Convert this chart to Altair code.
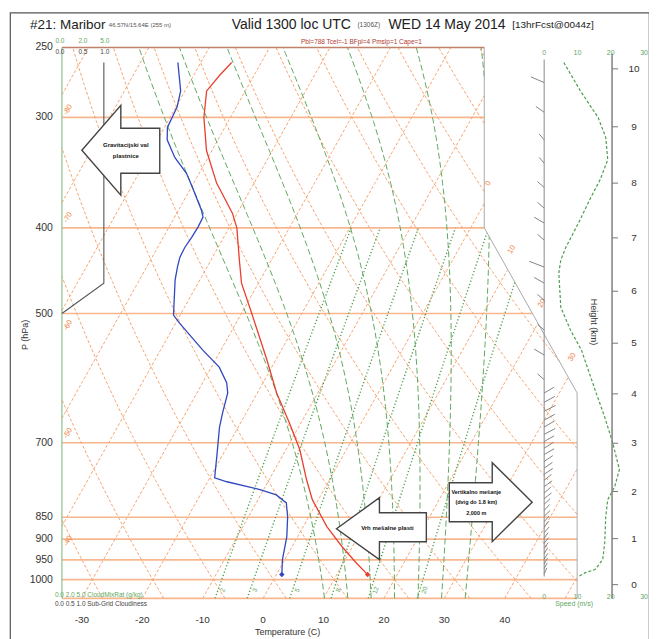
import numpy as np
import pandas as pd
import altair as alt

FONT = "Liberation Sans"

# ---------------------------------------------------------------- sounding data
temp_p = [260, 269, 280, 300, 327, 356, 385, 400, 435, 462, 499, 564, 615, 665, 713, 771, 812, 871, 918, 957, 987]
temp_T = [-54.9, -55.7, -56.4, -54.4, -50.9, -46.2, -40.8, -38.7, -35.3, -32.8, -28.4, -21.5, -16.8,
          -11.9, -7.7, -3.8, -1.0, 3.9, 8.3, 12.1, 15.1]

dew_p = [260, 280, 292, 308, 318, 333, 347, 360, 382, 389, 399, 410, 421, 432, 443, 458, 502, 513, 550, 575,
         599, 615, 648, 672, 726, 767, 775, 791, 802, 819, 849, 894, 949, 987]
dew_T = [-63.8, -60.7, -59.8, -59.5, -58.4, -55.5, -52.1, -49.8, -46.2, -45.3, -45.2, -45.3, -45.5, -45.4,
         -44.9, -44.1, -41.1, -39.3, -33.0, -28.7, -26.0, -24.9, -23.9, -23.1, -20.8, -19.2, -16.8, -10.6,
         -7.4, -5.0, -3.5, -1.8, -0.4, 0.9]

spd_p = [260, 280, 300, 316, 335, 353, 369, 395, 421, 435, 450, 492, 522, 550, 610, 655, 700, 751, 785, 812,
         849, 908, 949, 974, 982, 992]
spd_v = [5.9, 10.9, 16.2, 18.5, 19.1, 16.8, 14.1, 10.3, 6.5, 5.0, 4.4, 5.0, 7.9, 11.2, 15.3, 18.2, 20.6,
         22.6, 21.2, 19.1, 18.5, 18.2, 17.6, 15.3, 12.4, 10.3]

# wind barbs (pressure, barb length in speed units; negative = to the left)
barb_p = [274, 296, 318, 338, 360, 380, 395, 413, 443, 462, 483, 522, 557, 594,
          615, 630, 645, 660, 672, 685, 698, 710, 722, 735, 748, 760, 772, 785, 798, 810,
          822, 835, 848, 860, 872, 885, 898, 910, 922, 935, 948, 960, 972, 985]
barb_len = [-4.0, -2.5, -1.5, -1.5, -2.0, -2.0, -3.0, -2.0, -4.5, -3.0, -2.0, -2.0, -3.0, -2.0,
            3.0, 3.2, 3.4, 3.2, 3.0, 3.3, 3.0, 2.8, 3.0, 2.6, 2.5, 2.6, 2.2, 2.4, 2.0, 2.2,
            1.8, 1.6, 1.8, 1.5, 1.4, 1.5, 1.2, 1.3, 1.2, 1.0, 1.1, 1.0, 0.9, 0.8]

# cloud / grey profile on the small left scale
cloud_p = [260, 462, 500]
cloud_v = [5.0, 5.0, 0.0]

pressure_ticks = [250, 300, 400, 500, 700, 850, 900, 950, 1000]
isobars = [300, 400, 500, 700, 850, 900, 950, 1000, 1050]
temp_ticks = [-30, -20, -10, 0, 10, 20, 30, 40]
height_km = [0, 1, 2, 3, 4, 5, 6, 7, 8, 9, 10]
speed_ticks = [0, 10, 20, 30]

isotherm_T = list(range(-110, 51, 10))
theta_C = list(range(-40, 121, 10))
theta_w = [8, 12, 16, 20, 24, 28, 32]
mix_w = [2, 3, 5, 8, 12, 20]
left_iso_labels = [-40, -50, -60, -70, -80]
right_iso_labels = [0, 10, 20, 30]

# ---------------------------------------------------------------- diagram geometry
K = 35.6                      # skew: X = T + K*ln(1000/p)
P_TOP, P_BOT = 250.0, 1050.0
XL = -35.04                   # left edge of diagram (skewed units)
X_RT, X_RB = 34.88, 50.25     # right edge above 400 hPa / below 615 hPa
P_C1, P_C2 = 400.0, 615.0

XS = alt.Scale(domain=[-30, 40], range=[82.5, 506.0], nice=False)
YS = alt.Scale(type="log", domain=[P_TOP, P_BOT], range=[35.0, 586.76], nice=False)
SPD = alt.Scale(domain=[0, 30], range=[535, 635], nice=False)
CLD = alt.Scale(domain=[0, 5], range=[52, 94], nice=False)

SKEW = f"datum.T + {K}*log(1000/datum.p)"


def XR(p):
    if p <= P_C1:
        return X_RT
    if p >= P_C2:
        return X_RB
    f = np.log(p / P_C1) / np.log(P_C2 / P_C1)
    return X_RT + f * (X_RB - X_RT)


def inside(X, p):
    return (X >= XL - 1e-6) and (X <= XR(p) + 1e-6) and (P_TOP - 1e-6 <= p <= P_BOT + 1e-6)


T0, T1 = np.log(1000 / P_BOT), np.log(1000 / P_TOP)


def bis(fn, a, b):
    ia = inside(*fn(a))
    for _ in range(40):
        m = 0.5 * (a + b)
        if inside(*fn(m)) == ia:
            a = m
        else:
            b = m
    return a if ia else b


def clip(fn, t0=T0, t1=T1, n=90):
    ts = np.linspace(t0, t1, n)
    pts = [fn(t) for t in ts]
    ins = [inside(*q) for q in pts]
    runs, cur = [], []
    for k in range(n):
        if ins[k]:
            if not cur and k > 0:
                cur.append(fn(bis(fn, ts[k - 1], ts[k])))
            cur.append(pts[k])
        elif cur:
            cur.append(fn(bis(fn, ts[k - 1], ts[k])))
            runs.append(cur)
            cur = []
    if cur:
        runs.append(cur)
    return runs


def frame(lines):
    rows = []
    for lid, runs in lines:
        for r, run in enumerate(runs):
            for i, (X, p) in enumerate(run):
                rows.append({"id": f"{lid}_{r}", "i": i, "X": X, "p": p})
    return pd.DataFrame(rows)


def es(Tc):
    return 6.112 * np.exp(17.67 * Tc / (Tc + 243.5))


def dTdp(T, p):
    e = es(T - 273.15)
    rs = 0.622 * e / (p - e)
    Rd, cp, Lv = 287.04, 1005.7, 2.501e6
    return ((Rd * T + Lv * rs) / p) / (cp + Lv * Lv * rs * 0.622 / (Rd * T * T))


def moist(thw):
    tu = np.linspace(0, T1, 160)
    td = np.linspace(0, T0, 8)
    def integ(tt):
        T = thw + 273.15
        out = [T]
        for a, b in zip(tt[:-1], tt[1:]):
            p0, p1 = 1000 * np.exp(-a), 1000 * np.exp(-b)
            h = p1 - p0
            k1 = dTdp(T, p0)
            k2 = dTdp(T + h / 2 * k1, p0 + h / 2)
            k3 = dTdp(T + h / 2 * k2, p0 + h / 2)
            k4 = dTdp(T + h * k3, p1)
            T = T + h / 6 * (k1 + 2 * k2 + 2 * k3 + k4)
            out.append(T)
        return np.array(out)
    Tu, Td = integ(tu), integ(td)
    ts = np.concatenate([td[::-1], tu[1:]])
    Ts = np.concatenate([Td[::-1], Tu[1:]]) - 273.15
    return lambda t: (float(np.interp(t, ts, Ts)) + K * t, 1000 * np.exp(-t))


iso_df = frame([(f"i{T}", clip(lambda t, T=T: (T + K * t, 1000 * np.exp(-t)))) for T in isotherm_T])
dry_df = frame([(f"d{th}", clip(lambda t, th=th: ((th + 273.15) * np.exp(-t) ** 0.2857 - 273.15 + K * t,
                                                   1000 * np.exp(-t)))) for th in theta_C])
moist_df = frame([(f"m{w}", clip(moist(w))) for w in theta_w])


def mixfn(w):
    def f(t):
        p = 1000 * np.exp(-t)
        e = w * p / (622.0 + w)
        g = np.log(e / 6.112)
        return 243.5 * g / (17.67 - g) + K * t, p
    return f


mix_df = frame([(f"w{w}", clip(mixfn(w), T0, np.log(1000 / 400.0))) for w in mix_w])

bar_df = pd.DataFrame({"p": isobars, "X1": [XL] * len(isobars), "X2": [XR(p) for p in isobars]})
edge_df = pd.DataFrame({"i": [0, 1, 2, 3], "X": [X_RT, X_RT, X_RB, X_RB], "p": [P_TOP, P_C1, P_C2, P_BOT]})

# orange isotherm labels
def lab_pos(X, p, dxp, dyp):
    return X + dxp / 6.05, p * np.exp(dyp / 384.5)

ll = []
for T in left_iso_labels:
    L = (XL - T) / K
    X, p = lab_pos(XL, 1000 * np.exp(-L), 6, 15)
    ll.append({"X": X, "p": p, "t": str(T)})
for T in right_iso_labels:
    fn = lambda t, T=T: (T + K * t, 1000 * np.exp(-t))
    tb = bis(fn, T0, T1) if inside(*fn(T0)) and not inside(*fn(T1)) else T1
    X, p = fn(tb)
    X, p = lab_pos(X, p, 4, -20)
    ll.append({"X": X, "p": p, "t": str(T)})
olab_df = pd.DataFrame(ll)

ml = []
for w in mix_w:
    X, p = mixfn(w)(np.log(1000 / 1028.0))
    ml.append({"X": X + 0.8, "p": p, "t": str(w)})
mlab_df = pd.DataFrame(ml)

# ---------------------------------------------------------------- layers
ORANGE = "#f6a46f"
ISOBAR = "#f8b68f"
GREEN = "#5fa85f"

def lines(df, color, dash, width=1.0):
    return alt.Chart(df).mark_line(color=color, strokeDash=dash, strokeWidth=width, clip=False).encode(
        x=alt.X("X:Q", scale=XS, axis=None), y=alt.Y("p:Q", scale=YS, axis=None),
        detail="id:N", order="i:Q")

layers = []
layers.append(alt.Chart(bar_df).mark_rule(color=ISOBAR, strokeWidth=1.6).encode(
    x=alt.X("X1:Q", scale=XS, axis=None), x2="X2:Q", y=alt.Y("p:Q", scale=YS, axis=None)))
layers.append(lines(iso_df, ORANGE, [3, 2]))
layers.append(lines(dry_df, ORANGE, [3, 2]))
layers.append(lines(moist_df, GREEN, [6, 3]))
layers.append(lines(mix_df, "#4f9f4f", [1.2, 2.2], 1.4))
layers.append(alt.Chart(pd.DataFrame({"p": [P_TOP], "X1": [XL], "X2": [X_RT]})).mark_rule(
    color="#c0806a", strokeWidth=1.6).encode(
    x=alt.X("X1:Q", scale=XS, axis=None), x2="X2:Q", y=alt.Y("p:Q", scale=YS, axis=None)))
layers.append(alt.Chart(pd.DataFrame({"X": [XL], "p1": [P_TOP], "p2": [P_BOT]})).mark_rule(
    color="#8cc08c", strokeWidth=1.2).encode(
    x=alt.X("X:Q", scale=XS, axis=None), y=alt.Y("p1:Q", scale=YS, axis=None), y2="p2:Q"))
layers.append(alt.Chart(edge_df).mark_line(color="#aaaaaa", strokeWidth=1).encode(
    x=alt.X("X:Q", scale=XS, axis=None), y=alt.Y("p:Q", scale=YS, axis=None), order="i:Q"))
layers.append(alt.Chart(olab_df).mark_text(color="#f08040", fontSize=7.5, font=FONT, angle=300).encode(
    x=alt.X("X:Q", scale=XS, axis=None), y=alt.Y("p:Q", scale=YS, axis=None), text="t:N"))
layers.append(alt.Chart(mlab_df).mark_text(color=GREEN, fontSize=6.5, font=FONT, angle=290).encode(
    x=alt.X("X:Q", scale=XS, axis=None), y=alt.Y("p:Q", scale=YS, axis=None), text="t:N"))

# grey cloud profile
layers.append(alt.Chart(pd.DataFrame({"p": cloud_p, "v": cloud_v, "i": range(3)})).mark_line(
    color="#555555", strokeWidth=1.1).encode(
    x=alt.X("v:Q", scale=CLD, axis=None), y=alt.Y("p:Q", scale=YS, axis=None), order="i:Q"))

# wind speed + barbs
layers.append(alt.Chart(pd.DataFrame({"p": spd_p, "v": spd_v})).mark_line(
    color="#4d9e4d", strokeDash=[3, 2], strokeWidth=1.2).encode(
    x=alt.X("v:Q", scale=SPD, axis=None), y=alt.Y("p:Q", scale=YS, axis=None), order="p:Q"))
layers.append(alt.Chart(pd.DataFrame({"a": [258], "b": [992]})).transform_calculate(z="0").mark_rule(
    color="#888888", strokeWidth=1).encode(
    x=alt.X("z:Q", scale=SPD, axis=None), y=alt.Y("a:Q", scale=YS, axis=None), y2="b:Q"))
layers.append(alt.Chart(pd.DataFrame({"p": barb_p, "len": barb_len})).transform_calculate(
    z="0", p2="datum.p*0.985").mark_rule(color="#777777", strokeWidth=0.9).encode(
    x=alt.X("z:Q", scale=SPD, axis=None), x2="len:Q", y=alt.Y("p:Q", scale=YS, axis=None), y2="p2:Q"))
layers.append(alt.Chart(pd.DataFrame({"v": speed_ticks})).mark_text(color=GREEN, fontSize=7, font=FONT).encode(
    x=alt.X("v:Q", scale=SPD, axis=None), y=alt.value(41), text="v:N"))
layers.append(alt.Chart(pd.DataFrame({"v": speed_ticks})).mark_text(color=GREEN, fontSize=7, font=FONT).encode(
    x=alt.X("v:Q", scale=SPD, axis=None), y=alt.value(585), text="v:N"))

# profiles
for pp, tt, col in [(temp_p, temp_T, "#e8402e"), (dew_p, dew_T, "#3148c0")]:
    d = pd.DataFrame({"p": pp, "T": tt})
    base = alt.Chart(d).transform_calculate(X=SKEW)
    layers.append(base.mark_line(color=col, strokeWidth=1.3).encode(
        x=alt.X("X:Q", scale=XS, axis=None), y=alt.Y("p:Q", scale=YS, axis=None), order="p:Q"))
    layers.append(base.transform_filter(f"datum.p == {max(pp)}").mark_point(
        shape="diamond", filled=True, size=30, color=col, opacity=1).encode(
        x=alt.X("X:Q", scale=XS, axis=None), y=alt.Y("p:Q", scale=YS, axis=None)))

# height axis
HGT = "1013.25*pow(1 - 2.25577e-5*datum.z*1000, 5.25588)"
layers.append(alt.Chart(pd.DataFrame({"a": [0]})).mark_rule(color="#888888", strokeWidth=1.6).encode(
    x=alt.value(603), y=alt.value(41), y2=alt.value(587)))
hb = alt.Chart(pd.DataFrame({"z": height_km})).transform_calculate(p=HGT)
layers.append(hb.mark_rule(color="#777777").encode(
    x=alt.value(603), x2=alt.value(609), y=alt.Y("p:Q", scale=YS, axis=None)))
layers.append(hb.mark_text(fontSize=10, font=FONT, color="#333333").encode(
    x=alt.value(625), y=alt.Y("p:Q", scale=YS, axis=None), text="z:N"))

# pressure and temperature labels
layers.append(alt.Chart(pd.DataFrame({"p": pressure_ticks})).mark_text(
    align="right", fontSize=10.5, font=FONT, color="#333333").encode(
    x=alt.value(43), y=alt.Y("p:Q", scale=YS, axis=None), text="p:N"))
layers.append(alt.Chart(pd.DataFrame({"T": temp_ticks, "p": [P_BOT] * len(temp_ticks)})).transform_calculate(
    X=SKEW).mark_text(fontSize=10, font=FONT, color="#333333").encode(
    x=alt.X("X:Q", scale=XS, axis=None), y=alt.value(608), text="T:N"))

# annotation arrows
arrows = [
    ("M-1,0L0,-1.154L0,-0.564L1,-0.564L1,0.59L0,0.59L0,1.154Z", 6084, -25.29, 326.8),
    ("M-1,0L-0.044,-0.689L-0.044,-0.356L1,-0.356L1,0.289L-0.044,0.289L-0.044,0.689Z", 8100, 17.85, 875.8),
    ("M-1,-0.47L0.036,-0.47L0.036,-0.952L1,0L0.036,0.952L0.036,0.47L-1,0.47Z", 6889, 35.95, 817.4),
]
for shape, size, ax, ap in arrows:
    layers.append(alt.Chart(pd.DataFrame({"X": [ax], "p": [ap]})).mark_point(
        shape=shape, size=size, filled=True, fill="white", stroke="#444444", strokeWidth=1.4, opacity=1).encode(
        x=alt.X("X:Q", scale=XS, axis=None), y=alt.Y("p:Q", scale=YS, axis=None)))

def txt(s, x, y, size=10, color="#222222", align="left", angle=0, weight="normal", lh=None):
    kw = dict(align=align, baseline="middle", fontSize=size, color=color, angle=angle,
              fontWeight=weight, font=FONT)
    if lh:
        kw.update(lineBreak="\n", lineHeight=lh)
    return alt.Chart(pd.DataFrame({"t": [s]})).mark_text(**kw).encode(
        x=alt.value(x), y=alt.value(y), text="t:N")

layers += [
    txt("Gravitacijski val\nplastnice", 116, 133, 6, "#111111", "center", weight="bold", lh=11),
    txt("Vrh mešalne plasti", 378, 516, 6, "#111111", "center", weight="bold"),
    txt("Vertikalno mešanje\n(dvig do 1.8 km)\n2,000 m", 467, 480, 5.5, "#111111", "center", weight="bold", lh=10.5),
    txt("#21: Maribor", 20, 13, 13.5),
    txt("46.57N/15.64E (255 m)", 99, 13, 6, "#555555"),
    txt("Valid 1300 loc UTC", 222, 13, 14),
    txt("(1306Z)", 348, 13, 6.5, "#555555"),
    txt("WED 14 May 2014", 379, 13, 14),
    txt("[13hrFcst@0044z]", 503, 13, 10),
    txt("Pbl=788 Tcel=-1 BFpl=4 Pmslp=1 Cape=1", 352, 30, 6.5, "#b03a30", "center"),
    txt("P (hPa)", 15, 323, 9, "#333333", "center", angle=270),
    txt("Height (km)", 585, 310, 9, "#333333", "center", angle=90),
    txt("Temperature (C)", 278, 620, 9, "#333333", "center"),
    txt("Speed (m/s)", 565, 592, 7, GREEN, "center"),
    txt("0.0", 50, 29, 6.5, GREEN, "center"), txt("2.0", 73, 29, 6.5, GREEN, "center"),
    txt("5.0", 95, 29, 6.5, GREEN, "center"),
    txt("0.0", 50, 40, 6.5, "#444444", "center"), txt("0.5", 73, 40, 6.5, "#444444", "center"),
    txt("1.0", 95, 40, 6.5, "#444444", "center"),
    txt("0.0   2.0   5.0   CloudMixRat (g/kg)", 45, 583, 6.5, GREEN),
    txt("0.0   0.5   1.0   Sub-Grid Cloudiness", 45, 592, 6.5, "#444444"),
]

chart = alt.layer(*layers).resolve_scale(x="independent").properties(
    width=640, height=628,
    autosize=alt.AutoSizeParams(type="none"),
    padding={"left": 2, "top": 4, "right": 0, "bottom": 0},
    background="white",
).configure_view(stroke="#555555", strokeWidth=1.2)

chart.save("out.html", embed_options={"renderer": "svg", "actions": False})
